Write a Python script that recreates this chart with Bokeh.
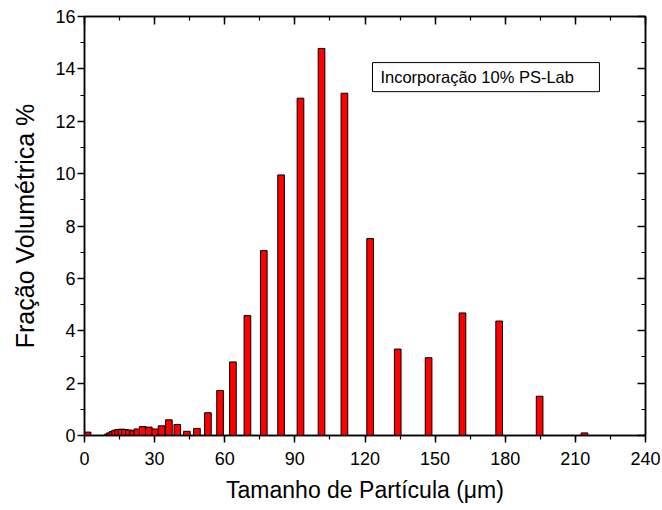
from bokeh.plotting import figure
from bokeh.models import (LinearAxis, SingleIntervalTicker, Range1d, Label,
                          BoxAnnotation, ColumnDataSource, CustomJSTickFormatter)
from bokeh.embed import file_html
from bokeh.resources import INLINE

# Particle size bin centres (um) and volume fraction (%)
size_um = [1.3, 9.9, 10.9, 12.0, 13.1, 14.4, 15.8, 17.3, 19.0, 20.8, 22.6,
           24.9, 27.5, 30.2, 33.0, 36.1, 39.7, 43.8, 48.1, 52.8, 58.0, 63.5,
           69.7, 76.7, 84.1, 92.4, 101.4, 111.2, 122.2, 134.0, 147.2, 161.7,
           177.4, 194.7, 213.9]
fraction = [0.13, 0.05, 0.10, 0.15, 0.20, 0.23, 0.24, 0.23, 0.21, 0.18, 0.25,
            0.34, 0.32, 0.25, 0.37, 0.60, 0.42, 0.16, 0.27, 0.87, 1.72, 2.81,
            4.58, 7.06, 9.95, 12.88, 14.78, 13.07, 7.52, 3.30, 2.97, 4.68,
            4.37, 1.50, 0.10]

x_ticks = [0, 30, 60, 90, 120, 150, 180, 210, 240]
y_ticks = [0, 2, 4, 6, 8, 10, 12, 14, 16]
legend_text = "Incorporação 10% PS-Lab"
x_title = "Tamanho de Partícula (\u03bcm)"
y_title = "Fração Volumétrica %"

FONT = "Liberation Sans"

src = ColumnDataSource(dict(x=size_um, top=fraction))

p = figure(frame_width=561, frame_height=419, output_backend="svg",
           toolbar_location=None,
           x_range=Range1d(x_ticks[0], x_ticks[-1]),
           y_range=Range1d(y_ticks[0], y_ticks[-1]),
           min_border_left=84, min_border_right=16, min_border_top=16,
           min_border_bottom=0, x_axis_location=None, y_axis_location=None)
p.grid.visible = False
p.outline_line_color = "black"
p.outline_line_width = 1.5
p.background_fill_color = "white"
p.border_fill_color = "white"

p.vbar(x="x", top="top", width=2.85, bottom=0, source=src,
       fill_color="#ff0000", line_color="black", line_width=1)

xt = SingleIntervalTicker(interval=30, num_minor_ticks=2)
yt = SingleIntervalTicker(interval=2, num_minor_ticks=2)
blank = CustomJSTickFormatter(code="return ''")


def style(ax, labels=True):
    ax.axis_line_color = "black"
    ax.axis_line_width = 1.5
    ax.major_tick_line_color = "black"
    ax.minor_tick_line_color = "black"
    ax.major_tick_line_width = 1.5
    ax.minor_tick_line_width = 1.2
    if labels:
        ax.major_label_text_font = FONT
        ax.major_label_text_font_size = "18px"
        ax.major_label_text_color = "black"
        ax.axis_label_text_font = FONT
        ax.axis_label_text_font_style = "normal"
        ax.axis_label_text_color = "black"
    else:
        ax.formatter = blank
        ax.major_label_standoff = 0


bottom = LinearAxis(ticker=xt, axis_label=x_title)
style(bottom)
bottom.axis_label_text_font_size = "23px"
bottom.major_tick_in = 0
bottom.major_tick_out = 7
bottom.minor_tick_in = 0
bottom.minor_tick_out = 4
bottom.major_label_standoff = 9
bottom.axis_label_standoff = 9
p.add_layout(bottom, "below")

left = LinearAxis(ticker=yt, axis_label=y_title)
style(left)
left.axis_label_text_font_size = "25px"
left.major_tick_in = 0
left.major_tick_out = 7
left.minor_tick_in = 0
left.minor_tick_out = 4
left.major_label_standoff = 2
left.axis_label_standoff = 13
p.add_layout(left, "left")

top = LinearAxis(ticker=SingleIntervalTicker(interval=30, num_minor_ticks=2))
style(top, labels=False)
top.major_tick_in = 8
top.major_tick_out = 0
top.minor_tick_in = 4
top.minor_tick_out = 0
p.add_layout(top, "above")

right = LinearAxis(ticker=SingleIntervalTicker(interval=2, num_minor_ticks=2))
style(right, labels=False)
right.major_tick_in = 8
right.major_tick_out = 0
right.minor_tick_in = 4
right.minor_tick_out = 0
p.add_layout(right, "right")

box = BoxAnnotation(left=123.2, right=220.3, top=14.24, bottom=13.13,
                    fill_color="white", fill_alpha=1.0,
                    line_color="black", line_alpha=1.0, line_width=1)
p.add_layout(box)
lab = Label(x=126.6, y=13.68, text=legend_text, text_font=FONT,
            text_font_size="16.5px", text_baseline="middle",
            text_align="left", text_color="black")
p.add_layout(lab)

open("out.html", "w").write(file_html(p, INLINE))
